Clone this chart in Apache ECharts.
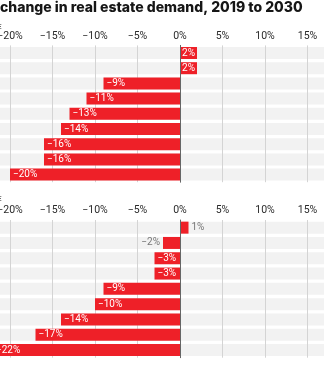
<!DOCTYPE html>
<html>
<head>
<meta charset="utf-8">
<script src="https://cdn.jsdelivr.net/npm/echarts@6/dist/echarts.min.js"></script>
<style>
  html, body { margin: 0; padding: 0; background: #fff; overflow: hidden; }
  #wrap { position: relative; width: 324px; height: 366px; overflow: hidden; }
  /* the plot runs past both edges of the view, so the canvas is wider and shifted left */
  #chart { position: absolute; left: -60px; top: 0; width: 440px; height: 366px; }
</style>
</head>
<body>
<div id="wrap"><div id="chart"></div></div>
<script>
// Chart text
const titleText = 'change in real estate demand, 2019 to 2030';
const panelTag = 'E';

// Rows of each panel, top to bottom
const rowsTop = ['a1', 'a2', 'a3', 'a4', 'a5', 'a6', 'a7', 'a8', 'a9'];
const rowsBottom = ['b1', 'b2', 'b3', 'b4', 'b5', 'b6', 'b7', 'b8', 'b9'];

// Percentage change per row
const valuesTop = [2, 2, -9, -11, -13, -14, -16, -16, -20];
const valuesBottom = [1, -2, -3, -3, -9, -10, -14, -17, -22];

// Value axis range and tick step (%)
const axisMin = -25;
const axisMax = 20;
const axisStep = 5;

const SHIFT = 60;            // canvas offset to the left of the view
const RED = '#ee2028';
const BAND = '#f2f2f2';
const GRID_LEFT = SHIFT - 32.5;
const GRID_WIDTH = 382.5;
const PX_PER_UNIT = GRID_WIDTH / (axisMax - axisMin);

const fmt = v => (v < 0 ? '\u2212' : '') + Math.abs(v) + '%';

function barData(values) {
  return values.map(v => {
    const text = fmt(v);
    const fits = Math.abs(v) * PX_PER_UNIT >= text.length * 5.5 + 4;
    let label;
    if (fits) {
      label = v > 0
        ? { position: 'inside', color: '#fff' }
        : { position: 'insideLeft', distance: 3, color: '#fff' };
    } else {
      label = { position: v > 0 ? 'right' : 'left', distance: 3, color: '#777' };
    }
    return { value: v, label: label };
  });
}

const grids = [
  { left: GRID_LEFT, width: GRID_WIDTH, top: 45.4, height: 136.8 },
  { left: GRID_LEFT, width: GRID_WIDTH, top: 220, height: 137.7 }
];

function xAxisFor(i) {
  return {
    type: 'value', gridIndex: i, position: 'top', z: 1,
    min: axisMin, max: axisMax, interval: axisStep,
    axisLine: { show: false }, axisTick: { show: false },
    axisLabel: {
      margin: 4, color: '#2a2a2a', fontSize: 10.5, fontFamily: 'Roboto',
      formatter: fmt
    },
    splitLine: { show: true, lineStyle: { color: '#d4d4d4', width: 1 } }
  };
}

function yAxisFor(i, rows) {
  return {
    type: 'category', gridIndex: i, data: rows, inverse: true, z: 3,
    axisLine: { show: true, onZero: true, lineStyle: { color: '#666', width: 1 } },
    axisTick: { show: false }, axisLabel: { show: false },
    splitLine: { show: false }
  };
}

function bandSeries(i, rows) {
  return {
    type: 'bar', xAxisIndex: i, yAxisIndex: i, z: 0, silent: true,
    barWidth: 12, barGap: '-100%',
    data: rows.map(() => 0),
    itemStyle: { color: 'rgba(0,0,0,0)' },
    showBackground: true, backgroundStyle: { color: BAND }
  };
}

function valueSeries(i, values) {
  return {
    type: 'bar', xAxisIndex: i, yAxisIndex: i, z: 2,
    barWidth: 12, barGap: '-100%',
    data: barData(values),
    itemStyle: { color: RED },
    label: { show: true, fontSize: 10, fontFamily: 'Roboto', formatter: p => fmt(p.value) }
  };
}

const chart = echarts.init(document.getElementById('chart'), null, { renderer: 'canvas' });
chart.setOption({
  animation: false,
  backgroundColor: '#fff',
  grid: grids,
  xAxis: [xAxisFor(0), xAxisFor(1)],
  yAxis: [yAxisFor(0, rowsTop), yAxisFor(1, rowsBottom)],
  series: [
    bandSeries(0, rowsTop), valueSeries(0, valuesTop),
    bandSeries(1, rowsBottom), valueSeries(1, valuesBottom)
  ],
  graphic: [
    { type: 'text', x: SHIFT, y: 1, style: { text: titleText, font: '800 14px Inter', fill: '#161616' } },
    { type: 'text', x: SHIFT - 3, y: 23, style: { text: panelTag, font: 'bold 8px Roboto', fill: '#666' } },
    { type: 'text', x: SHIFT - 3, y: 195, style: { text: panelTag, font: 'bold 8px Roboto', fill: '#666' } }
  ]
});
</script>
</body>
</html>
